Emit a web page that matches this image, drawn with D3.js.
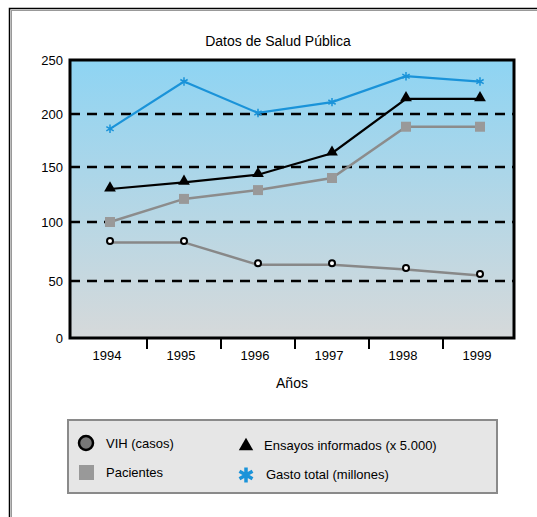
<!DOCTYPE html>
<html>
<head>
<meta charset="utf-8">
<script src="https://cdn.jsdelivr.net/npm/d3@7"></script>
<style>
  html, body { margin: 0; padding: 0; background: #fff; }
  svg { display: block; font-family: Arial, "Liberation Sans", sans-serif; }
</style>
</head>
<body>
<svg id="chart" width="537" height="517"></svg>
<script>
// Categories and series
const years = ["1994", "1995", "1996", "1997", "1998", "1999"];
const vih = [84, 84, 65, 65, 61, 56];
const pacientes = [100, 121, 129, 140, 188, 188];
const ensayos = [130, 136, 143, 163, 214, 214];
const gasto = [186, 230, 201, 211, 235, 230];
const yTicks = [0, 50, 100, 150, 200, 250];
const gridValues = [50, 100, 150, 200];

const svg = d3.select("#chart");

// Outer frame (double line)
svg.append("rect").attr("x", 9.5).attr("y", 8.5).attr("width", 560).attr("height", 560)
  .attr("fill", "#fff").attr("stroke", "#000").attr("stroke-width", 1.5);
svg.append("rect").attr("x", 11.5).attr("y", 10.5).attr("width", 560).attr("height", 560)
  .attr("fill", "none").attr("stroke", "#999").attr("stroke-width", 1);

const plot = { left: 70, right: 514, top: 60, bottom: 338 };

const x = d3.scaleBand().domain(years).range([plot.left, plot.right]);
// Piecewise linear value axis, one segment per tick interval
const y = d3.scaleLinear().domain(yTicks).range([338, 281, 222, 167, 114, 60]);
const cx = d => x(d) + x.bandwidth() / 2 + 3;

// Background gradient
const defs = svg.append("defs");
const grad = defs.append("linearGradient").attr("id", "bg").attr("x1", 0).attr("y1", 0).attr("x2", 0).attr("y2", 1);
grad.append("stop").attr("offset", "0%").attr("stop-color", "#8ed4f3");
grad.append("stop").attr("offset", "100%").attr("stop-color", "#d6d9da");

svg.append("rect").attr("x", plot.left).attr("y", plot.top)
  .attr("width", plot.right - plot.left).attr("height", plot.bottom - plot.top)
  .attr("fill", "url(#bg)");

// Dashed gridlines
svg.append("g").selectAll("line").data(gridValues).join("line")
  .attr("x1", plot.left).attr("x2", plot.right)
  .attr("y1", d => y(d)).attr("y2", d => y(d))
  .attr("stroke", "#000").attr("stroke-width", 2.5).attr("stroke-dasharray", "10,7");

// Plot border
svg.append("rect").attr("x", plot.left).attr("y", plot.top)
  .attr("width", plot.right - plot.left).attr("height", plot.bottom - plot.top)
  .attr("fill", "none").attr("stroke", "#000").attr("stroke-width", 3);

// Y axis labels
const yAxis = d3.axisLeft(y).tickValues(yTicks).tickSize(0).tickPadding(7);
svg.append("g").attr("transform", `translate(${plot.left},0)`).call(yAxis)
  .call(g => g.select(".domain").remove())
  .call(g => g.selectAll("text").attr("font-size", 13).attr("fill", "#000")
    .attr("font-family", "Arial, 'Liberation Sans', sans-serif"));

// X axis: separators between categories and year labels
const xAxis = d3.axisBottom(x).tickSize(0).tickPadding(13);
svg.append("g").attr("transform", `translate(0,${plot.bottom})`).call(xAxis)
  .call(g => g.select(".domain").remove())
  .call(g => g.selectAll("text").attr("font-size", 13).attr("fill", "#000")
    .attr("font-family", "Arial, 'Liberation Sans', sans-serif"));
svg.append("g").selectAll("line").data(years.slice(1)).join("line")
  .attr("x1", d => x(d) + 3).attr("x2", d => x(d) + 3)
  .attr("y1", plot.bottom).attr("y2", plot.bottom + 11)
  .attr("stroke", "#000").attr("stroke-width", 2);

svg.append("text").attr("x", (plot.left + plot.right) / 2).attr("y", 388)
  .attr("text-anchor", "middle").attr("font-size", 14).text("Años");

// Title
svg.append("text").attr("x", 278).attr("y", 46).attr("text-anchor", "middle")
  .attr("font-size", 14).text("Datos de Salud Pública");

const line = d3.line().x((d, i) => cx(years[i])).y(d => y(d));

// VIH series
svg.append("path").datum(vih).attr("d", line).attr("fill", "none")
  .attr("stroke", "#888").attr("stroke-width", 2.5).attr("transform", "translate(0,1.5)");
svg.append("g").selectAll("circle").data(vih).join("circle")
  .attr("cx", (d, i) => cx(years[i])).attr("cy", d => y(d)).attr("r", 3)
  .attr("fill", "#fff").attr("stroke", "#000").attr("stroke-width", 2);

// Pacientes series
svg.append("path").datum(pacientes).attr("d", line).attr("fill", "none")
  .attr("stroke", "#8c8c8c").attr("stroke-width", 2.5);
svg.append("g").selectAll("rect").data(pacientes).join("rect")
  .attr("x", (d, i) => cx(years[i]) - 5).attr("y", d => y(d) - 5)
  .attr("width", 10).attr("height", 10).attr("fill", "#999");

// Ensayos series
svg.append("path").datum(ensayos).attr("d", line).attr("fill", "none")
  .attr("stroke", "#000").attr("stroke-width", 2.2);
const tri = d3.symbol().type(d3.symbolTriangle).size(60);
svg.append("g").selectAll("path").data(ensayos).join("path")
  .attr("d", tri).attr("transform", (d, i) => `translate(${cx(years[i])},${y(d) - 1})`)
  .attr("fill", "#000");

// Gasto series
svg.append("path").datum(gasto).attr("d", line).attr("fill", "none")
  .attr("stroke", "#1a93d9").attr("stroke-width", 2.2);
const star = d3.symbol().type(d3.symbolAsterisk).size(50);
svg.append("g").selectAll("path").data(gasto).join("path")
  .attr("d", star).attr("transform", (d, i) => `translate(${cx(years[i])},${y(d)})`)
  .attr("fill", "none").attr("stroke", "#1a93d9").attr("stroke-width", 1.5);

// Legend
const lg = svg.append("g");
lg.append("rect").attr("x", 68).attr("y", 420).attr("width", 429).attr("height", 73)
  .attr("fill", "#e6e6e6").attr("stroke", "#8a8a8a").attr("stroke-width", 2);
lg.append("circle").attr("cx", 86).attr("cy", 443).attr("r", 7)
  .attr("fill", "#777").attr("stroke", "#000").attr("stroke-width", 2.5);
lg.append("text").attr("x", 106).attr("y", 448).attr("font-size", 13).text("VIH (casos)");
lg.append("rect").attr("x", 79).attr("y", 465).attr("width", 15).attr("height", 15).attr("fill", "#999");
lg.append("text").attr("x", 106).attr("y", 477).attr("font-size", 13).text("Pacientes");
lg.append("path").attr("d", d3.symbol().type(d3.symbolTriangle).size(90))
  .attr("transform", "translate(246,446)").attr("fill", "#000");
lg.append("text").attr("x", 264).attr("y", 450).attr("font-size", 13).text("Ensayos informados (x 5.000)");
lg.append("path").attr("d", d3.symbol().type(d3.symbolAsterisk).size(160))
  .attr("transform", "translate(246,475)").attr("fill", "none")
  .attr("stroke", "#1a93d9").attr("stroke-width", 3.5);
lg.append("text").attr("x", 266).attr("y", 479).attr("font-size", 13).text("Gasto total (millones)");
</script>
</body>
</html>
